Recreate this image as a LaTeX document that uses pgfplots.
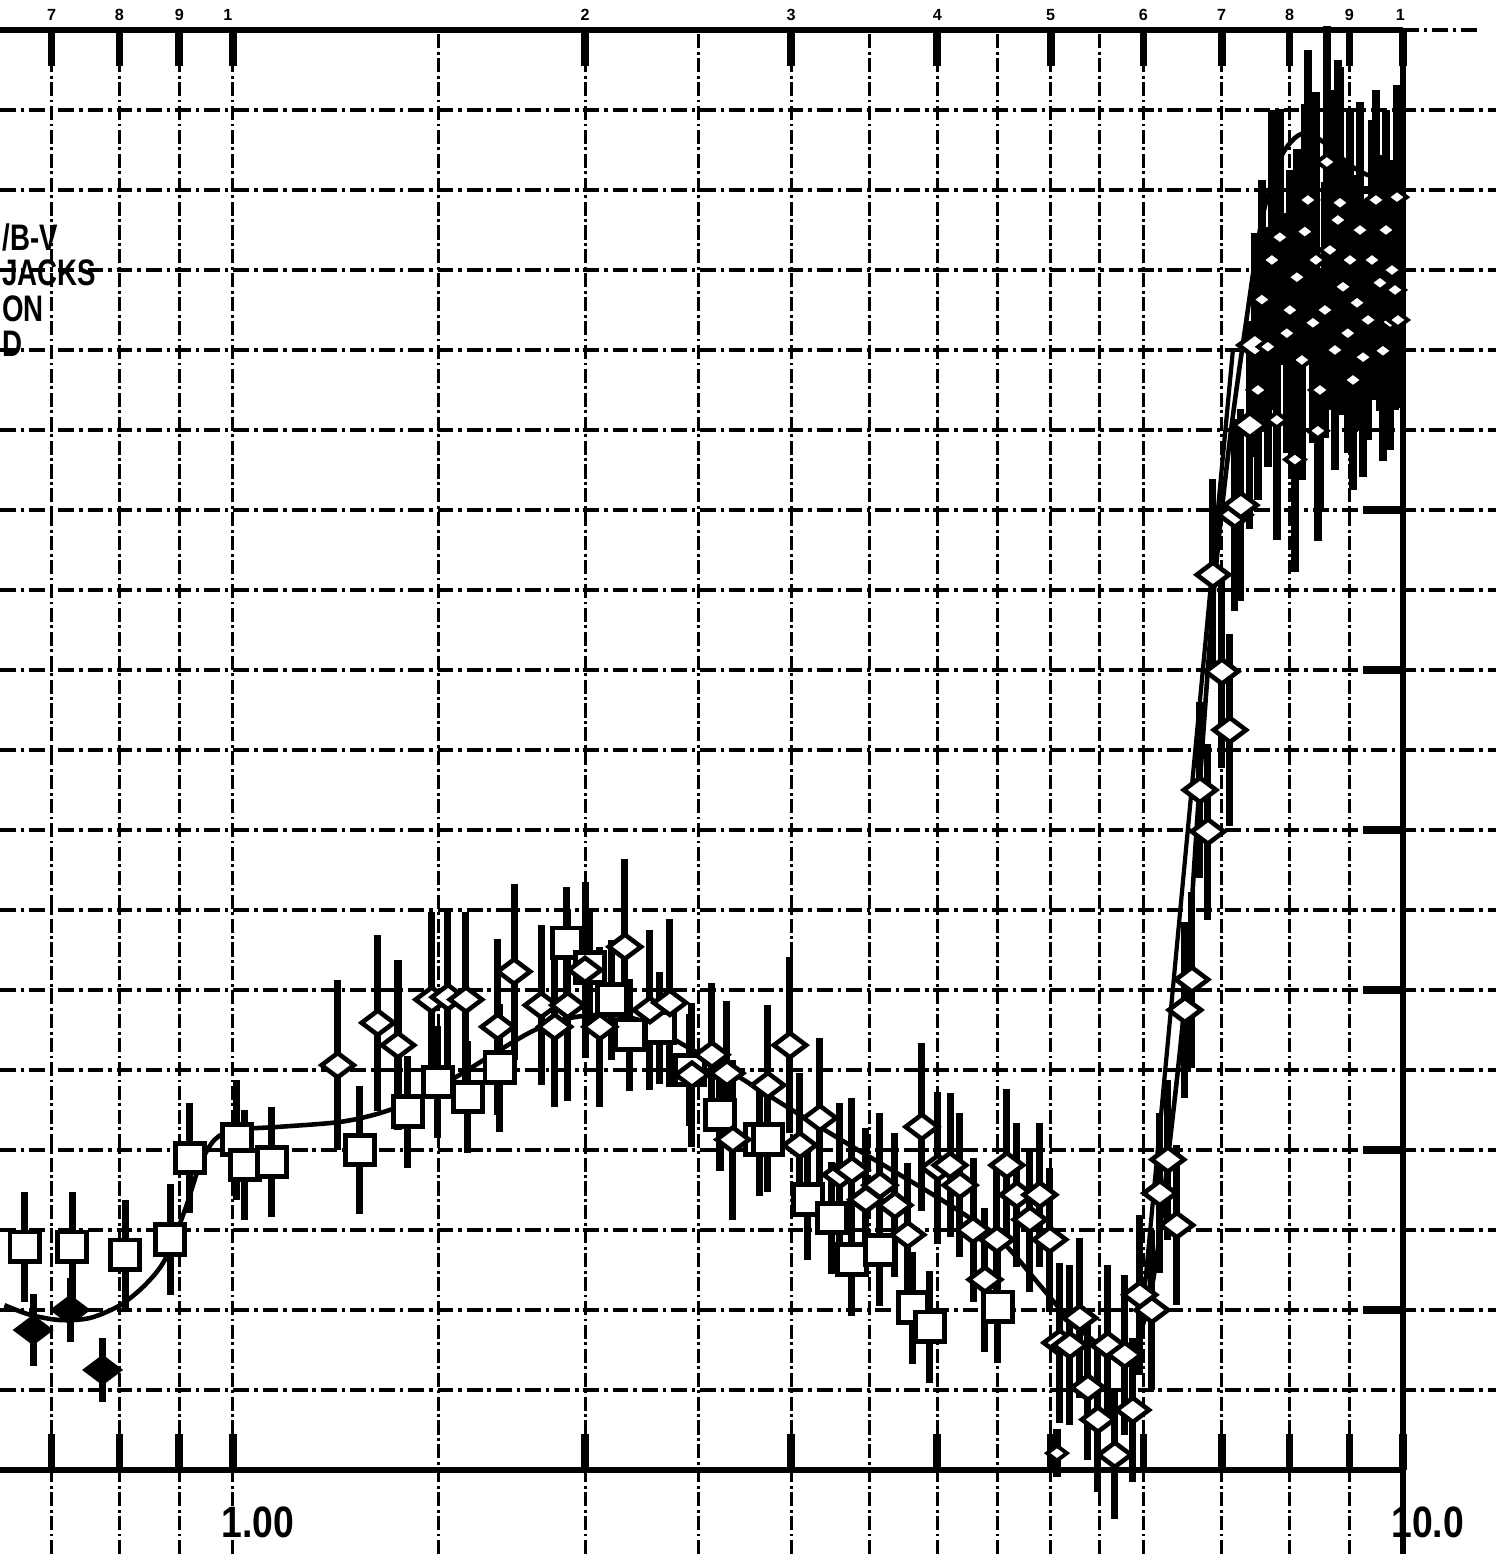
\documentclass[border=0pt]{standalone}
\usepackage{fontspec}
\setmainfont{Liberation Sans}
\usepackage{graphicx}
\usepackage{pgfplots}
\pgfplotsset{compat=1.18}

\tikzset{
  gridv/.style={line width=0.85pt, dash pattern=on 4pt off 1pt on 0.8pt off 1pt},
  gridh/.style={line width=0.9pt, dash pattern=on 4.5pt off 1.4pt on 1pt off 1.4pt},
  frame/.style={line width=1.6pt},
  tickmk/.style={line width=2.2pt},
}

\begin{document}
\begin{tikzpicture}
\begin{axis}[
  name=main,
  at={(0,0)}, anchor=south west,
  scale only axis,
  width=149.6mm, height=155.4mm,
  xmode=log,
  xmin=0.6324, xmax=12.009,
  ymin=-1.05, ymax=18.375,
  hide axis,
  clip=false,
]

% log-paper grid
\pgfplotsinvokeforeach{0.7,0.8,0.9,1,1.5,2,2.5,3,3.5,4,4.5,5,5.5,6,7,8,9}{
  \draw[gridv] (axis cs:#1,-1.05) -- (axis cs:#1,18);
}
\pgfplotsinvokeforeach{1,...,17}{
  \draw[gridh] (axis cs:0.6324,#1) -- (axis cs:12.009,#1);
}

% frame
\draw[frame] (axis cs:0.6324,18) -- (axis cs:10,18);
\draw[gridh] (axis cs:10,18) -- (axis cs:11.63,18);
\draw[frame] (axis cs:0.6324,0) -- (axis cs:10,0);
\draw[frame] (axis cs:10,-1.05) -- (axis cs:10,18);

% heavy ticks on top, bottom and right
\pgfplotsinvokeforeach{0.7,0.8,0.9,1,2,3,4,5,6,7,8,9,10}{
  \draw[tickmk] (axis cs:#1,18) -- (axis cs:#1,17.55);
  \draw[tickmk] (axis cs:#1,0) -- (axis cs:#1,0.45);
}
\pgfplotsinvokeforeach{2,4,...,16}{
  \draw[tickmk] (axis cs:9.25,#1) -- (axis cs:10,#1);
}

% top decade labels
\begin{scope}[every node/.style={font=\bfseries\fontsize{4.6}{5}\selectfont}]
\node at (axis cs:0.7,18.19) {7};
\node at (axis cs:0.8,18.19) {8};
\node at (axis cs:0.9,18.19) {9};
\node at (axis cs:0.99,18.19) {1};
\node at (axis cs:2,18.19) {2};
\node at (axis cs:3,18.19) {3};
\node at (axis cs:4,18.19) {4};
\node at (axis cs:5,18.19) {5};
\node at (axis cs:6,18.19) {6};
\node at (axis cs:7,18.19) {7};
\node at (axis cs:8,18.19) {8};
\node at (axis cs:9,18.19) {9};
\node at (axis cs:9.95,18.19) {1};
\end{scope}

% bottom labels
\node[font=\bfseries\fontsize{12.5}{14}\selectfont] at (axis cs:1.05,-0.65) {\scalebox{0.85}[1]{1.00}};
\node[font=\bfseries\fontsize{12.5}{14}\selectfont] at (axis cs:10.5,-0.65) {\scalebox{0.85}[1]{10.0}};

% curve label block
\begin{scope}[every node/.style={font=\bfseries\fontsize{10.5}{10.5}\selectfont,
    anchor=west, inner sep=0pt, text height=7.6pt, text depth=0pt}]
\node at (axis cs:0.6345,15.41) {\scalebox{0.75}[1]{/B-V}};
\node at (axis cs:0.6345,14.975) {\scalebox{0.75}[1]{JACKS}};
\node at (axis cs:0.6345,14.525) {\scalebox{0.75}[1]{ON}};
\node at (axis cs:0.6345,14.09) {\scalebox{0.75}[1]{D}};
\end{scope}

% filled diamonds
\addplot[black, only marks, mark=diamond*, mark size=5.5pt,
  mark options={rotate=90, fill=black},
  error bars/.cd, y dir=both, y explicit, error mark=none,
  error bar style={line width=2pt}]
table[x index=0, y index=1, y error index=2] {
0.675 1.75 0.45
0.726 2.00 0.40
0.774 1.25 0.40
};

% open squares
\addplot[black, only marks, mark=square*, mark size=4.2pt,
  mark options={fill=white, line width=1.4pt},
  error bars/.cd, y dir=both, y explicit, error mark=none,
  error bar style={line width=2pt}]
table[x index=0, y index=1, y error index=2] {
0.664 2.79 0.69
0.729 2.79 0.69
0.809 2.69 0.69
0.884 2.88 0.69
0.919 3.90 0.69
1.008 4.13 0.75
1.024 3.81 0.69
1.080 3.85 0.69
1.284 4.00 0.80
1.411 4.48 0.70
1.497 4.85 0.70
1.588 4.66 0.70
1.691 5.03 0.80
1.930 6.59 0.70
2.019 6.28 0.70
2.108 5.88 0.75
2.184 5.44 0.70
2.317 5.53 0.70
2.458 5.00 0.70
2.608 4.44 0.70
2.821 4.13 0.70
2.866 4.13 0.65
3.101 3.38 0.75
3.251 3.15 0.70
3.381 2.63 0.70
3.573 2.75 0.70
3.813 2.03 0.70
3.942 1.79 0.70
4.506 2.04 0.70
};

% open diamonds
\addplot[black, only marks, mark=diamond*, mark size=4.6pt,
  mark options={rotate=90, fill=white, line width=1.3pt},
  error bars/.cd, y dir=both, y explicit, error mark=none,
  error bar style={line width=2pt}]
table[x index=0, y index=1, y error index=2] {
1.229 5.06 1.06
1.330 5.59 1.10
1.384 5.31 1.06
1.479 5.88 1.10
1.527 5.91 1.10
1.582 5.88 1.10
1.684 5.54 1.10
1.739 6.23 1.10
1.834 5.81 1.00
1.884 5.54 1.00
1.933 5.81 1.20
2.000 6.25 1.10
2.059 5.54 1.00
2.163 6.54 1.10
2.272 5.75 1.00
2.363 5.84 1.05
2.468 4.94 0.90
2.567 5.19 0.90
2.644 4.96 0.90
2.675 4.13 1.00
2.866 4.81 1.00
2.993 5.31 1.10
3.052 4.06 0.90
3.175 4.40 1.00
3.302 3.69 0.90
3.381 3.75 0.90
3.475 3.38 0.90
3.573 3.56 0.90
3.680 3.31 0.90
3.775 2.94 0.90
3.880 4.29 1.05
4.005 3.78 0.95
4.101 3.81 0.90
4.182 3.56 0.90
4.291 3.00 0.90
4.393 2.38 0.90
4.498 2.88 0.90
4.587 3.81 0.95
4.678 3.44 0.90
4.799 3.13 0.90
4.894 3.44 0.90
4.992 2.88 0.90
5.091 1.59 1.00
5.192 1.56 1.00
5.295 1.90 1.00
5.380 1.03 0.90
5.487 0.63 0.90
5.595 1.56 1.00
5.672 0.19 0.80
5.785 1.44 1.00
5.877 0.75 0.90
5.958 2.19 1.00
6.101 2.00 1.00
6.198 3.46 1.00
6.296 3.88 1.00
6.409 3.06 1.00
6.511 5.75 1.10
6.602 6.13 1.10
6.707 8.50 1.10
6.813 7.98 1.10
6.880 11.19 1.20
7.003 9.98 1.20
7.114 9.25 1.20
7.184 11.94 1.20
7.269 12.06 1.20
7.399 13.06 1.30
7.472 14.06 1.40
};

% dense group near the upper end
\addplot[black, only marks, mark=diamond*, mark size=2.8pt,
  mark options={rotate=90, fill=white, line width=1.1pt},
  error bars/.cd, y dir=both, y explicit, error mark=none,
  error bar style={line width=2.2pt}]
table[x index=0, y index=1, y error index=2] {
5.062 0.21 0.30
7.517 13.50 1.375
7.576 14.63 1.50
7.666 14.04 1.50
7.727 15.125 1.875
7.803 13.125 1.50
7.849 15.41 1.60
7.958 14.21 1.50
8.004 14.50 1.75
8.084 12.63 1.40
8.116 14.91 1.60
8.196 13.875 1.50
8.244 15.48 1.60
8.293 15.875 1.875
8.377 14.34 1.50
8.425 15.125 2.10
8.458 12.99 1.375
8.493 13.50 1.50
8.577 14.50 1.60
8.610 16.35 1.70
8.661 15.25 2.00
8.747 14.00 1.50
8.798 15.625 2.00
8.834 15.84 1.70
8.887 14.79 1.60
8.970 14.21 1.50
9.010 15.125 1.875
9.064 13.625 1.375
9.136 14.59 1.60
9.189 15.50 1.60
9.245 13.91 1.50
9.335 14.375 1.50
9.408 15.125 1.75
9.482 15.875 1.375
9.557 14.84 1.60
9.613 13.99 1.375
9.671 15.50 1.50
9.748 14.35 1.60
9.786 15.00 1.375
9.845 14.75 1.50
9.884 15.91 1.40
9.902 14.375 1.10
};

% fitted curve
\addplot[black, line width=1.3pt, smooth, tension=0.5] coordinates {
(0.638,2.06) (0.671,1.94) (0.711,1.875) (0.755,1.90) (0.801,2.06)
(0.841,2.31) (0.875,2.63) (0.910,3.25) (0.937,3.81) (0.965,4.13)
(1.004,4.25) (1.097,4.29) (1.234,4.35) (1.335,4.46) (1.445,4.65)
(1.563,4.94) (1.691,5.25) (1.812,5.50) (1.941,5.65) (2.100,5.69)
(2.249,5.60) (2.410,5.34) (2.608,5.06) (2.821,4.75) (3.052,4.44)
(3.368,4.06) (3.716,3.69) (4.101,3.31) (4.524,2.88) (4.894,2.31)
(5.192,1.875) (5.508,1.56) (5.785,1.44) (5.958,1.69) (6.137,2.50)
(6.296,3.88) (6.511,5.88) (6.707,8.63) (6.907,11.13) (7.114,12.88)
(7.328,14.25) (7.576,15.63) (7.849,16.38) (8.084,16.65) (8.277,16.71)
(8.493,16.63) (8.748,16.48) (9.010,16.31) (9.316,16.19) (9.652,16.13)
(9.941,15.88)
};

% straight rising segment beside the curve
\addplot[black, line width=1.2pt] coordinates {(5.970,1.75) (7.156,14.0)};
\end{axis}
\pgfresetboundingbox
\useasboundingbox (main.south west) rectangle (main.north east);
\end{tikzpicture}
\end{document}
